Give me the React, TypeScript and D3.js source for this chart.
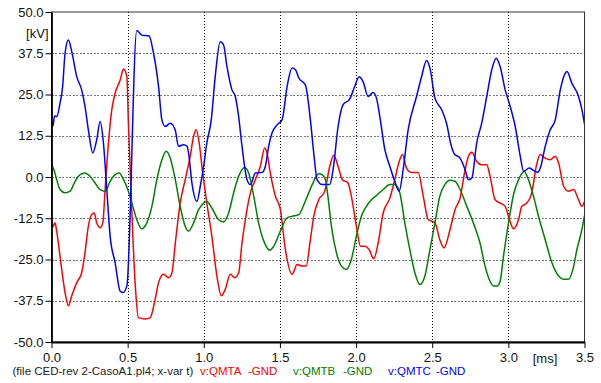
import React, { useEffect, useRef } from "react";
import * as d3 from "d3";

// time [ms], voltage [kV]
const qmta: [number, number][] = [
  [0, -12.4], [0.01, -15], [0.023, -13.9], [0.034, -16.4], [0.045, -20], [0.067, -28], [0.089, -35],
  [0.111, -39], [0.133, -36], [0.166, -32], [0.198, -29], [0.22, -23], [0.242, -14.9], [0.264, -11.4],
  [0.28, -10.9], [0.297, -13.9], [0.319, -15.4], [0.337, -13.9], [0.352, -3.8], [0.374, 10.3],
  [0.396, 20.4], [0.418, 25.4], [0.451, 29.4], [0.473, 32.7], [0.495, 30.4], [0.505, 16.3],
  [0.527, -9.9], [0.549, -32], [0.571, -42.6], [0.615, -43], [0.648, -42.6], [0.681, -37],
  [0.703, -32], [0.736, -29.5], [0.769, -30.5], [0.791, -29], [0.813, -20], [0.845, -7.9],
  [0.878, -0.8], [0.911, 6.3], [0.933, 12.3], [0.95, 14.3], [0.97, 10.3], [0.988, 3.2], [1.02, -7.9],
  [1.053, -17.9], [1.086, -30], [1.115, -36], [1.141, -34], [1.174, -29.5], [1.203, -30.5],
  [1.229, -29], [1.251, -20], [1.273, -12.9], [1.306, -4.8], [1.339, -0.8], [1.371, 3.2], [1.4, 8.8],
  [1.415, 7.3], [1.437, 1.2], [1.47, -5.8], [1.503, -9.9], [1.536, -22], [1.58, -29.5], [1.613, -26.5],
  [1.645, -27], [1.672, -27], [1.7, -19], [1.722, -11.9], [1.755, -6.9], [1.794, -4.3], [1.827, 3.2],
  [1.853, 6.6], [1.882, 3.2], [1.91, -0.8], [1.947, -1.8], [1.969, -5.8], [2.002, -14.9], [2.029, -21],
  [2.057, -21], [2.086, -22], [2.116, -24.8], [2.145, -20], [2.178, -10.9], [2.222, -6.4],
  [2.254, -0.8], [2.283, 4.7], [2.305, 6.8], [2.331, 2.7], [2.364, 1.4], [2.408, 1.4], [2.441, -5.8],
  [2.474, -12.9], [2.518, -13.9], [2.55, -19], [2.577, -21.5], [2.617, -15.9], [2.65, -9.9],
  [2.683, -6.4], [2.716, 2.2], [2.738, 6.3], [2.76, 7.5], [2.792, 4.7], [2.825, 3.7], [2.858, 3.7],
  [2.88, 0.2], [2.913, -6.9], [2.946, -7.9], [2.979, -8.9], [3.007, -12.9], [3.034, -15.7],
  [3.067, -12.9], [3.088, -8.9], [3.121, -7.9], [3.154, -4.8], [3.183, 3.2], [3.209, 6.8],
  [3.242, 5.7], [3.275, 5.2], [3.308, 6.3], [3.33, 4.2], [3.363, -2.8], [3.395, -4.3], [3.428, -3.8],
  [3.461, -6.9], [3.483, -8.9], [3.5, -7.4],
];

const qmtb: [number, number][] = [
  [0, 3.7], [0.016, 2.2], [0.034, -0.8], [0.056, -3.8], [0.089, -4.8], [0.122, -4.3], [0.155, -1.3],
  [0.188, 0.7], [0.22, 1.2], [0.253, 0.2], [0.286, -1.8], [0.319, -3.8], [0.352, -4.3], [0.385, -1.3],
  [0.418, 0.7], [0.444, 1.2], [0.473, -0.8], [0.505, -4.3], [0.534, -8.9], [0.56, -12.9],
  [0.593, -15.7], [0.626, -13.9], [0.659, -8.9], [0.692, -0.8], [0.725, 5.2], [0.753, 7.8],
  [0.78, 5.7], [0.813, -0.8], [0.845, -8.9], [0.878, -14.9], [0.9, -16.4], [0.933, -13.9],
  [0.966, -9.9], [0.999, -7.9], [1.02, -7.4], [1.053, -9.4], [1.097, -12.9], [1.13, -13.6],
  [1.163, -10.9], [1.196, -4.8], [1.229, 0.2], [1.268, 2.9], [1.295, 1.2], [1.328, -5.8],
  [1.36, -13.9], [1.404, -20.5], [1.433, -22.2], [1.459, -21], [1.503, -16.4], [1.547, -12.4],
  [1.58, -11.9], [1.624, -11.4], [1.657, -8.4], [1.689, -4.8], [1.722, -1.3], [1.755, 1],
  [1.777, 0.7], [1.799, -0.8], [1.815, -5.8], [1.838, -14.9], [1.871, -23], [1.904, -27],
  [1.936, -28], [1.969, -25], [2.002, -17.9], [2.035, -11.9], [2.068, -8.9], [2.101, -6.9],
  [2.134, -5.6], [2.178, -3.8], [2.222, -2.3], [2.254, -2.3], [2.287, -4.8], [2.32, -13.9],
  [2.353, -22], [2.386, -29], [2.419, -32.6], [2.452, -30], [2.485, -22], [2.518, -13.9],
  [2.55, -5.8], [2.583, -2.3], [2.616, -1], [2.65, -1.3], [2.683, -3.8], [2.727, -8.9], [2.77, -13.9],
  [2.814, -20], [2.847, -27], [2.88, -31.6], [2.902, -33], [2.928, -33], [2.946, -31.6], [2.968, -24],
  [3.001, -13.9], [3.034, -5.3], [3.067, -0.8], [3.104, 1.7], [3.132, -0.8], [3.165, -5.8],
  [3.198, -11.9], [3.242, -19], [3.286, -26], [3.33, -30], [3.363, -31], [3.395, -31], [3.424, -28],
  [3.45, -22], [3.483, -15.9], [3.5, -11.7],
];

const qmtc: [number, number][] = [
  [0, 17], [0.01, 15.5], [0.02, 18.5], [0.034, 18.3], [0.056, 22.4], [0.073, 27.4], [0.089, 37.5],
  [0.111, 41.5], [0.133, 38], [0.166, 30.4], [0.198, 26.4], [0.22, 21.4], [0.242, 14.3], [0.271, 7.3],
  [0.297, 11.3], [0.319, 16.8], [0.341, 10.3], [0.363, -3.8], [0.385, -17.9], [0.418, -26],
  [0.451, -34.6], [0.47, -35], [0.495, -33], [0.56, 44.4], [0.593, 43], [0.641, 42.7], [0.67, 37.5],
  [0.703, 27.4], [0.725, 17.3], [0.747, 15.3], [0.78, 16.3], [0.812, 14.3], [0.834, 9.3],
  [0.867, 9.8], [0.89, 9.3], [0.9, 7.3], [0.922, -1.8], [0.955, -7.4], [0.977, -2.8], [0.999, 3.2],
  [1.02, 10.3], [1.049, 17.3], [1.075, 30.4], [1.108, 41], [1.13, 40], [1.152, 33.5], [1.185, 26.4],
  [1.207, 24.4], [1.229, 18.3], [1.251, 9.3], [1.284, -0.8], [1.306, -2.3], [1.339, 1.2],
  [1.382, 1.4], [1.404, 3.2], [1.426, 9.3], [1.448, 13.3], [1.481, 15.8], [1.514, 17.3],
  [1.547, 27.4], [1.58, 33], [1.602, 32.5], [1.624, 30], [1.667, 27.9], [1.7, 17.3], [1.722, 7.3],
  [1.744, -0.8], [1.777, -2.3], [1.827, -2.3], [1.849, 2.2], [1.882, 15.3], [1.915, 21.9],
  [1.958, 23.6], [1.991, 27.4], [2.02, 30.4], [2.046, 28.9], [2.079, 24.4], [2.112, 25.6],
  [2.134, 23.9], [2.156, 18.3], [2.189, 8.3], [2.222, 3.2], [2.254, -1.3], [2.283, -4.3],
  [2.309, 2.2], [2.342, 14.3], [2.397, 24.4], [2.43, 30.4], [2.463, 35.3], [2.485, 33], [2.518, 23.9],
  [2.562, 20.4], [2.594, 16.3], [2.622, 10], [2.645, 7], [2.683, 5.7], [2.716, 2.2], [2.738, -0.8],
  [2.76, -0.3], [2.792, 10.3], [2.825, 16.3], [2.858, 24.4], [2.891, 32.5], [2.92, 36], [2.946, 33.5],
  [2.979, 26.4], [3.012, 21.4], [3.045, 15.3], [3.078, 6.3], [3.1, 1.7], [3.137, 2.7], [3.165, 2],
  [3.192, 1.4], [3.213, 3.2], [3.242, 9.3], [3.275, 14.3], [3.308, 17.3], [3.341, 26.4],
  [3.374, 31.5], [3.385, 32], [3.417, 28.4], [3.461, 24.4], [3.483, 20.4], [3.5, 16],
];

const yTicks = [-50, -37.5, -25, -12.5, 0, 12.5, 25, 37.5, 50];
const xTicks = [0, 0.5, 1, 1.5, 2, 2.5, 3, 3.5];

const series = [
  { name: "v:QMTA", data: qmta, color: "#ff0000", x: 200, gx: 248 },
  { name: "v:QMTB", data: qmtb, color: "#008000", x: 293, gx: 343 },
  { name: "v:QMTC", data: qmtc, color: "#0000ff", x: 388, gx: 436 },
];

const font = "'Liberation Sans', Arial, sans-serif";

const App = () => {
  const container = useRef<HTMLDivElement>(null);

  useEffect(() => {
    const width = 601;
    const height = 383;
    const left = 51.5;
    const right = 584.5;
    const top = 12;
    const bottom = 342;

    const x = d3.scaleLinear().domain([0, 3.5]).range([left, right]);
    const y = d3.scaleLinear().domain([-50, 50]).range([bottom, top]);

    const svg = d3
      .select(container.current)
      .append("svg")
      .attr("width", width)
      .attr("height", height)
      .attr("style", "position:absolute;left:0;top:0;background:#fff")
      .attr("font-family", font);

    // grid: grey dotted horizontals, black dotted verticals
    svg
      .append("g")
      .attr("shape-rendering", "crispEdges")
      .selectAll("line")
      .data(yTicks.filter((d) => d > -50 && d < 50))
      .join("line")
      .attr("x1", left)
      .attr("x2", right)
      .attr("y1", (d) => Math.round(y(d)) + 0.5)
      .attr("y2", (d) => Math.round(y(d)) + 0.5)
      .attr("stroke", "#777")
      .attr("stroke-dasharray", "2,1.5");

    svg
      .append("g")
      .attr("shape-rendering", "crispEdges")
      .selectAll("line")
      .data(xTicks.filter((d) => d > 0 && d < 3.5))
      .join("line")
      .attr("x1", (d) => Math.round(x(d)) + 0.5)
      .attr("x2", (d) => Math.round(x(d)) + 0.5)
      .attr("y1", top)
      .attr("y2", bottom)
      .attr("stroke", "#000")
      .attr("stroke-dasharray", "1,2");

    svg
      .append("clipPath")
      .attr("id", "plot-clip")
      .append("rect")
      .attr("x", left)
      .attr("y", top)
      .attr("width", right - left)
      .attr("height", bottom - top);

    const line = d3
      .line<[number, number]>()
      .x((d) => x(d[0]))
      .y((d) => y(d[1]))
      .curve(d3.curveMonotoneX);

    svg
      .append("g")
      .attr("clip-path", "url(#plot-clip)")
      .selectAll("path")
      .data(series)
      .join("path")
      .attr("d", (d) => line(d.data))
      .attr("fill", "none")
      .attr("stroke", (d) => d.color)
      .attr("stroke-width", 1.5)
      .attr("stroke-linejoin", "round");

    // frame
    svg
      .append("rect")
      .attr("x", left)
      .attr("y", top)
      .attr("width", right - left)
      .attr("height", bottom - top)
      .attr("fill", "none")
      .attr("stroke", "#333");

    const yAxis = svg
      .append("g")
      .attr("transform", `translate(${left},0)`)
      .call(
        d3
          .axisLeft(y)
          .tickValues(yTicks)
          .tickSize(6)
          .tickPadding(2)
          .tickSizeOuter(0)
          .tickFormat((d) => (+d).toFixed(1))
      );
    yAxis.select(".domain").attr("stroke-width", 1.8);

    const xAxis = svg
      .append("g")
      .attr("transform", `translate(0,${bottom})`)
      .call(
        d3
          .axisBottom(x)
          .tickValues(xTicks)
          .tickSize(6)
          .tickPadding(5)
          .tickSizeOuter(0)
          .tickFormat((d) => (+d).toFixed(1))
      );
    xAxis.select(".domain").attr("stroke-width", 1.8);

    svg
      .selectAll(".tick text")
      .attr("font-family", font)
      .attr("font-size", 13)
      .attr("fill", "#111");

    svg
      .append("text")
      .attr("x", 48.5)
      .attr("y", 37.5)
      .attr("text-anchor", "end")
      .attr("font-size", 13)
      .attr("fill", "#111")
      .text("[kV]");

    svg
      .append("text")
      .attr("x", 545)
      .attr("y", bottom + 20.5)
      .attr("text-anchor", "middle")
      .attr("font-size", 13)
      .attr("fill", "#111")
      .text("[ms]");

    // footer legend
    svg
      .append("text")
      .attr("x", 12.5)
      .attr("y", 375)
      .attr("font-size", 11.5)
      .attr("fill", "#222")
      .text("(file CED-rev 2-CasoA1.pl4; x-var t)");

    const legend = svg.append("g").attr("font-size", 11.5);
    legend
      .selectAll("text.name")
      .data(series)
      .join("text")
      .attr("class", "name")
      .attr("x", (d) => d.x)
      .attr("y", 375)
      .attr("fill", (d) => d.color)
      .text((d) => d.name);
    legend
      .selectAll("text.gnd")
      .data(series)
      .join("text")
      .attr("class", "gnd")
      .attr("x", (d) => d.gx)
      .attr("y", 375)
      .attr("fill", (d) => d.color)
      .text("-GND");

    return () => {
      svg.remove();
    };
  }, []);

  return <div ref={container}></div>;
};

export default App;
